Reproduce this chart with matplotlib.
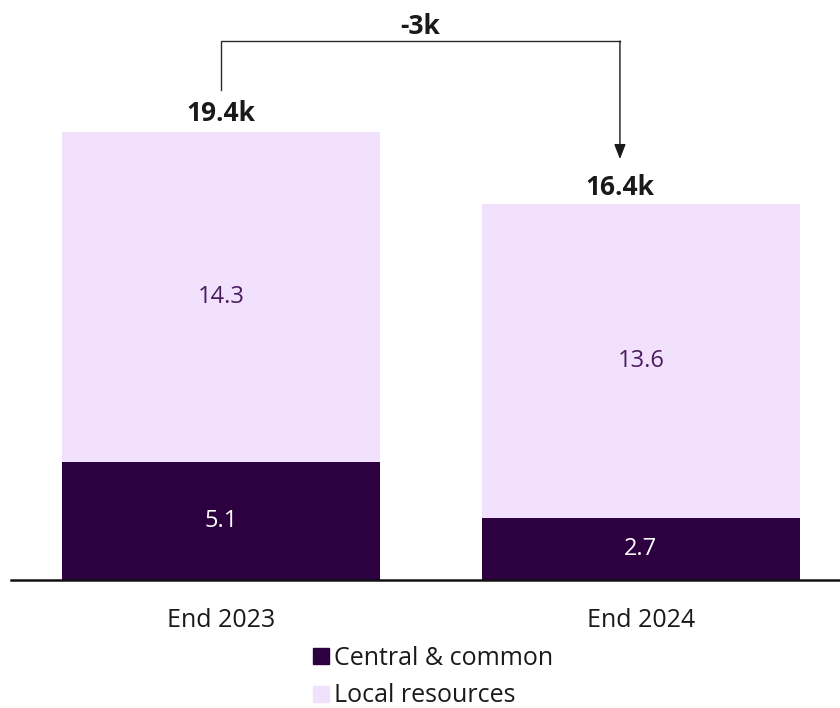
import matplotlib
matplotlib.use("Agg")
import matplotlib.pyplot as plt
from matplotlib.lines import Line2D

# Headcount (thousands) by period
periods = ["End 2023", "End 2024"]
central_common = [5.1, 2.7]
local_resources = [14.3, 13.6]
totals = [19.4, 16.4]
total_labels = ["19.4k", "16.4k"]
change_label = "-3k"
series_names = ["Central & common", "Local resources"]

DARK = "#2d003f"
LIGHT = "#f2e1fd"
LABEL_PURPLE = "#4a1c5e"
INK = "#1a1a1a"

plt.rcParams["font.family"] = ["Open Sans", "DejaVu Sans"]

fig = plt.figure(figsize=(8.4, 7.08), dpi=100)
ax = fig.add_axes([11 / 840, (708 - 580) / 708, 1 - 11 / 840, 580 / 708])

x = list(range(len(periods)))
width = 0.757
ax.bar(x, central_common, width=width, color=DARK, linewidth=0)
ax.bar(x, local_resources, width=width, bottom=central_common, color=LIGHT, linewidth=0)

# Segment value labels
for xi, c, l in zip(x, central_common, local_resources):
    ax.text(xi, c / 2, f"{c:.1f}", ha="center", va="center", color="white", fontsize=17)
    ax.text(xi, c + l / 2, f"{l:.1f}", ha="center", va="center", color=LABEL_PURPLE, fontsize=17)

# Totals above the bars
total_x = [x[0], x[1] - 0.05]
total_offsets = [0.8, 0.6]
for tx, t, lab, off in zip(total_x, totals, total_labels, total_offsets):
    ax.text(tx, t + off, lab, ha="center", va="center", color=INK,
            fontsize=19, fontweight="bold")

# Change bracket with arrow
y_top = 23.34
y_start = totals[0] + 1.82
y_end = totals[1] + 1.83
ax.plot([total_x[0], total_x[0], total_x[1]], [y_start, y_top, y_top],
        color="#2a2a2a", linewidth=1.0, solid_joinstyle="miter")
ax.annotate("", xy=(total_x[1], y_end), xytext=(total_x[1], y_top),
            arrowprops=dict(arrowstyle="-|>,head_length=0.9,head_width=0.35",
                            color="#1a1a1a", linewidth=1.0, shrinkA=0, shrinkB=0))
ax.text((total_x[0] + total_x[1]) / 2, 23.99, change_label, ha="center", va="center",
        color=INK, fontsize=19, fontweight="bold")

ax.set_xlim(-0.5, 1.474)
ax.set_ylim(0, 25.12)
ax.set_xticks(x)
ax.set_xticklabels(periods, fontsize=18, color=INK)
ax.tick_params(axis="x", length=0, pad=20)
ax.set_yticks([])
for side in ["left", "right", "top"]:
    ax.spines[side].set_visible(False)
ax.spines["bottom"].set_linewidth(1.8)
ax.spines["bottom"].set_color("#111111")
ax.patch.set_alpha(0)

handles = [Line2D([], [], marker="s", linestyle="", markersize=11, color=DARK),
           Line2D([], [], marker="s", linestyle="", markersize=11, color=LIGHT)]
fig.legend(handles, series_names, loc="upper left",
           bbox_to_anchor=(313 / 840, 1 - 646 / 708), frameon=False,
           fontsize=18, handlelength=0.62, handletextpad=0.22,
           labelspacing=0.5, borderpad=0, borderaxespad=0,
           labelcolor=INK)

fig.savefig("out.png", dpi=100)
